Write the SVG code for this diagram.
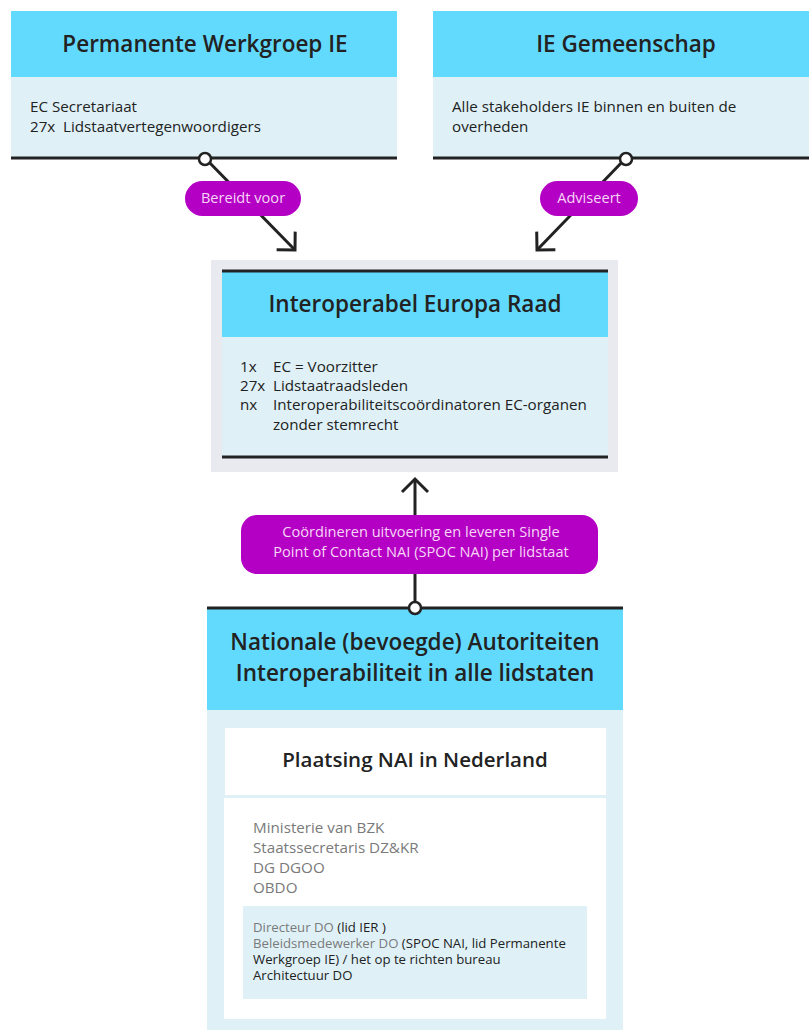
<svg xmlns="http://www.w3.org/2000/svg" width="809" height="1030" viewBox="0 0 809 1030">
<style>
  text{font-family:"Open Sans","Liberation Sans",sans-serif;fill:#222}
  .hdr{fill:#62dafe}
  .body{fill:#dff1f7}
  .title{font-weight:600;font-size:22.5px;text-anchor:middle}
  .t{font-size:15.2px}
  .g{fill:#7a7a7a}
  .small{font-size:13.2px}
  .bar{stroke:#222;stroke-width:3}
  .conn{stroke:#222;stroke-width:3;fill:none}
  .pill{fill:#b400c4}
  .pt{fill:#f6d6f6;font-size:14.6px;text-anchor:middle}
  .dot{fill:#fff;stroke:#222;stroke-width:2.5}
</style>
<defs>
  <marker id="arr" markerUnits="userSpaceOnUse" viewBox="-16 -16 18 32" refX="0" refY="0" markerWidth="18" markerHeight="32" orient="auto" overflow="visible">
    <path d="M-13,-13 L0,0 L-13,13" fill="none" stroke="#222" stroke-width="3"/>
  </marker>
</defs>
<rect width="809" height="1030" fill="#fff"/>

<g id="permanente-werkgroep">
  <rect class="hdr" x="11" y="11" width="386" height="66"/>
  <rect class="body" x="11" y="77" width="386" height="81"/>
  <line class="bar" x1="11" y1="158" x2="397" y2="158"/>
  <text class="title" x="205" y="52">Permanente Werkgroep IE</text>
  <text class="t" x="30" y="112">EC Secretariaat</text>
  <text class="t" x="30" y="132">27x</text>
  <text class="t" x="63" y="132">Lidstaatvertegenwoordigers</text>
</g>

<g id="ie-gemeenschap">
  <rect class="hdr" x="433" y="11" width="376" height="66"/>
  <rect class="body" x="433" y="77" width="376" height="81"/>
  <line class="bar" x1="433" y1="158" x2="809" y2="158"/>
  <text class="title" x="626" y="52">IE Gemeenschap</text>
  <text class="t" x="452" y="112">Alle stakeholders IE binnen en buiten de</text>
  <text class="t" x="452" y="132">overheden</text>
</g>

<g id="europa-raad">
  <rect x="211" y="260" width="407" height="212" fill="#e9eaf0"/>
  <rect class="hdr" x="222" y="271" width="386" height="66"/>
  <rect class="body" x="222" y="337" width="386" height="120"/>
  <line class="bar" x1="222" y1="271" x2="608" y2="271"/>
  <line class="bar" x1="222" y1="457" x2="608" y2="457"/>
  <text class="title" x="415" y="312">Interoperabel Europa Raad</text>
  <text class="t" x="240" y="372">1x</text>
  <text class="t" x="273" y="372">EC = Voorzitter</text>
  <text class="t" x="240" y="391">27x</text>
  <text class="t" x="273" y="391">Lidstaatraadsleden</text>
  <text class="t" x="240" y="410">nx</text>
  <text class="t" x="273" y="410">Interoperabiliteitscoördinatoren EC-organen</text>
  <text class="t" x="273" y="430">zonder stemrecht</text>
</g>

<g id="nationale-autoriteiten">
  <rect class="hdr" x="207" y="608" width="416" height="102"/>
  <rect class="body" x="207" y="710" width="416" height="320"/>
  <line class="bar" x1="207" y1="608" x2="623" y2="608"/>
  <text class="title" x="415" y="650">Nationale (bevoegde) Autoriteiten</text>
  <text class="title" x="415" y="681">Interoperabiliteit in alle lidstaten</text>
</g>

<g id="plaatsing-nai">
  <rect x="225" y="728" width="381" height="67" fill="#fff"/>
  <text class="title" x="415" y="767" style="font-size:20.5px">Plaatsing NAI in Nederland</text>
  <rect x="224" y="798" width="382" height="221" fill="#fff"/>
  <text class="t g" x="253" y="833">Ministerie van BZK</text>
  <text class="t g" x="253" y="853">Staatssecretaris DZ&amp;KR</text>
  <text class="t g" x="253" y="873">DG DGOO</text>
  <text class="t g" x="253" y="893">OBDO</text>
  <rect x="243" y="906" width="344" height="93" fill="#dff1f7"/>
  <text class="small" x="253" y="932"><tspan class="g">Directeur DO</tspan> (lid IER )</text>
  <text class="small" x="253" y="948"><tspan class="g">Beleidsmedewerker DO</tspan> (SPOC NAI, lid Permanente</text>
  <text class="small" x="253" y="964">Werkgroep IE) / het op te richten bureau</text>
  <text class="small" x="253" y="980">Architectuur DO</text>
</g>

<g id="connectors">
  <line class="conn" x1="205" y1="158" x2="295" y2="250" marker-end="url(#arr)"/>
  <line class="conn" x1="626" y1="158" x2="537" y2="250" marker-end="url(#arr)"/>
  <line class="conn" x1="415" y1="608" x2="415" y2="479" marker-end="url(#arr)"/>
  <circle class="dot" cx="205" cy="159" r="6"/>
  <circle class="dot" cx="626" cy="159" r="6"/>
  <circle class="dot" cx="415" cy="608" r="6"/>
  <g id="label-bereidt">
    <rect class="pill" x="185" y="181" width="116" height="35" rx="17.5"/>
    <text class="pt" x="243" y="203">Bereidt voor</text>
  </g>
  <g id="label-adviseert">
    <rect class="pill" x="540" y="181" width="98" height="35" rx="17.5"/>
    <text class="pt" x="589" y="203">Adviseert</text>
  </g>
  <g id="label-coordineren">
    <rect class="pill" x="241" y="515" width="357" height="59" rx="16"/>
    <text class="pt" x="421" y="537">Coördineren uitvoering en leveren Single</text>
    <text class="pt" x="421" y="557">Point of Contact NAI (SPOC NAI) per lidstaat</text>
  </g>
</g>
</svg>
